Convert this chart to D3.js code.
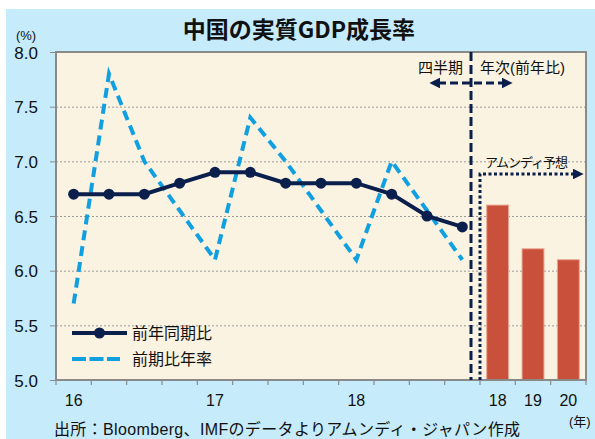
<!DOCTYPE html>
<html>
<head>
<meta charset="utf-8">
<script src="https://cdn.jsdelivr.net/npm/d3@7"></script>
<style>
    body { margin: 0; background: #fff; }
    text { font-family: "Liberation Sans", "Noto Sans CJK JP", sans-serif; fill: #111; }
</style>
</head>
<body>
<div id="grafico"></div>
<script>
// quarterly data 2016Q1 - 2018Q4
const quarters = ["16Q1", "16Q2", "16Q3", "16Q4", "17Q1", "17Q2", "17Q3", "17Q4", "18Q1", "18Q2", "18Q3", "18Q4"];
const yoy = [6.7, 6.7, 6.7, 6.8, 6.9, 6.9, 6.8, 6.8, 6.8, 6.7, 6.5, 6.4];
const qoqAnnualized = [5.7, 7.8, 7.0, 6.55, 6.1, 7.4, 7.0, 6.55, 6.1, 7.0, 6.55, 6.1];
const quarterTickLabels = { "16Q1": "16", "17Q1": "17", "18Q1": "18" };

// annual forecast
const years = ["18", "19", "20"];
const forecast = [6.6, 6.2, 6.1];

const yTicks = [5.0, 5.5, 6.0, 6.5, 7.0, 7.5, 8.0];

class Grafico {
    constructor(config) {
        this.config = config;
        this.svg = null;
        this.xScale = null;
        this.yScale = null;
        this.barScale = null;
        this.createSvg();
    }

    createSvg() {
        this.svg = d3.select(this.config.div)
            .append("svg")
            .attr("width", this.config.width)
            .attr("height", this.config.height);

        this.svg.append("rect")
            .attr("x", 6).attr("y", 9)
            .attr("width", this.config.width - 6)
            .attr("height", this.config.height - 9)
            .attr("fill", "#c6ebfb");

        let defs = this.svg.append("defs");
        defs.append("marker")
            .attr("id", "head")
            .attr("viewBox", "0 0 10 10")
            .attr("refX", 2).attr("refY", 5)
            .attr("markerWidth", 3.6).attr("markerHeight", 3.6)
            .attr("markerUnits", "strokeWidth")
            .attr("orient", "auto-start-reverse")
            .append("path")
            .attr("d", "M0,0 L10,5 L0,10 Z")
            .attr("fill", "#0b1f4d");
    }

    createScales() {
        let c = this.config;
        let domain = quarters.concat(years.map(d => "Y" + d));
        this.xScale = d3.scaleBand().domain(domain).range([c.left, c.right]);
        this.yScale = d3.scaleLinear().domain([5, 8]).range([c.bottom, c.top]);
        this.barScale = d3.scaleBand().domain(years)
            .range([this.xScale("Y" + years[0]), c.right])
            .paddingInner(0.38).paddingOuter(0.19);
    }

    renderFrame() {
        let c = this.config;
        this.svg.append("rect")
            .attr("x", c.left).attr("y", c.top)
            .attr("width", c.right - c.left)
            .attr("height", c.bottom - c.top)
            .attr("fill", "#faf3e1");

        // grid
        let grid = d3.axisLeft(this.yScale)
            .tickValues(yTicks.filter(d => d > 5 && d < 8))
            .tickSize(-(c.right - c.left))
            .tickFormat("");
        let g = this.svg.append("g")
            .attr("transform", `translate(${c.left},0)`)
            .call(grid);
        g.select(".domain").remove();
        g.selectAll("line")
            .attr("stroke", "#9a9a9a")
            .attr("stroke-width", 1)
            .attr("stroke-dasharray", "2,2");
    }

    renderBars() {
        this.svg.append("g")
            .selectAll("rect")
            .data(years.map((d, i) => ({ x: d, y: forecast[i] })))
            .join("rect")
            .attr("x", d => this.barScale(d.x))
            .attr("y", d => this.yScale(d.y))
            .attr("width", this.barScale.bandwidth())
            .attr("height", d => this.config.bottom - this.yScale(d.y))
            .attr("fill", "#c9503a")
            .attr("stroke", "#eba694")
            .attr("stroke-width", 1);
    }

    renderLines() {
        let half = this.xScale.bandwidth() / 2;
        let line = d3.line()
            .x(d => this.xScale(d.x) + half)
            .y(d => this.yScale(d.y));

        let qoqData = quarters.map((q, i) => ({ x: q, y: qoqAnnualized[i] }));
        let yoyData = quarters.map((q, i) => ({ x: q, y: yoy[i] }));

        this.svg.append("path")
            .datum(qoqData)
            .attr("d", line)
            .attr("fill", "none")
            .attr("stroke", "#10a0e2")
            .attr("stroke-width", 4)
            .attr("stroke-dasharray", "10,6");

        this.svg.append("path")
            .datum(yoyData)
            .attr("d", line)
            .attr("fill", "none")
            .attr("stroke", "#0b1f4d")
            .attr("stroke-width", 4);

        this.svg.append("g")
            .selectAll("circle")
            .data(yoyData)
            .join("circle")
            .attr("cx", d => this.xScale(d.x) + half)
            .attr("cy", d => this.yScale(d.y))
            .attr("r", 5.5)
            .attr("fill", "#0b1f4d");
    }

    createAxis() {
        let c = this.config;
        let yAxis = d3.axisLeft(this.yScale)
            .tickValues(yTicks)
            .tickFormat(d3.format(".1f"))
            .tickSize(6)
            .tickPadding(12);
        let gy = this.svg.append("g")
            .attr("transform", `translate(${c.left},0)`)
            .call(yAxis);
        gy.select(".domain").remove();
        gy.selectAll("line").attr("stroke", "#8a8a8a");
        gy.selectAll("text").style("font-size", "17px").attr("dy", "0.36em");

        // x axis tick marks on band boundaries
        let bounds = this.xScale.domain().map(d => this.xScale(d)).concat([c.right]);
        this.svg.append("g")
            .selectAll("line")
            .data(bounds)
            .join("line")
            .attr("x1", d => d).attr("x2", d => d)
            .attr("y1", c.bottom).attr("y2", c.bottom + 5)
            .attr("stroke", "#8a8a8a")
            .attr("stroke-width", 1.2);

        // labels at band centres
        let labelKeys = Object.keys(quarterTickLabels).concat(years.map(d => "Y" + d));
        let xAxis = d3.axisBottom(this.xScale)
            .tickValues(labelKeys)
            .tickFormat(d => quarterTickLabels[d] || d.slice(1))
            .tickSize(0)
            .tickPadding(15);
        let gx = this.svg.append("g")
            .attr("transform", `translate(0,${c.bottom})`)
            .call(xAxis);
        gx.select(".domain").remove();
        gx.selectAll("text").style("font-size", "16px");

        // plot border
        this.svg.append("rect")
            .attr("x", c.left).attr("y", c.top)
            .attr("width", c.right - c.left)
            .attr("height", c.bottom - c.top)
            .attr("fill", "none")
            .attr("stroke", "#8a8a8a")
            .attr("stroke-width", 2);
    }

    renderAnnotations() {
        let c = this.config;
        let navy = "#0b1f4d";
        let divX = this.xScale("Y" + years[0]) - 9;
        let fcX = this.xScale("Y" + years[0]);

        // quarterly / annual divider
        this.svg.append("line")
            .attr("x1", divX).attr("x2", divX)
            .attr("y1", c.top).attr("y2", c.bottom)
            .attr("stroke", navy).attr("stroke-width", 3)
            .attr("stroke-dasharray", "9,4");

        this.svg.append("line")
            .attr("x1", divX - 33).attr("x2", divX + 33)
            .attr("y1", 83).attr("y2", 83)
            .attr("stroke", navy).attr("stroke-width", 3)
            .attr("stroke-dasharray", "8,4")
            .attr("marker-start", "url(#head)")
            .attr("marker-end", "url(#head)");

        this.svg.append("text")
            .attr("x", divX - 8).attr("y", 73)
            .attr("text-anchor", "end")
            .style("font-size", "15px")
            .text("四半期");
        this.svg.append("text")
            .attr("x", divX + 9).attr("y", 73)
            .style("font-size", "15px")
            .text("年次(前年比)");

        // forecast bracket
        this.svg.append("path")
            .attr("d", `M${fcX},${c.bottom} V174 H575`)
            .attr("fill", "none")
            .attr("stroke", navy).attr("stroke-width", 3)
            .attr("stroke-dasharray", "3,2.5")
            .attr("marker-end", "url(#head)");
        this.svg.append("text")
            .attr("x", fcX + 5).attr("y", 167)
            .attr("textLength", 83)
            .style("font-size", "13px")
            .text("アムンディ予想");
    }

    renderLabels() {
        this.svg.append("text")
            .attr("x", 299).attr("y", 38)
            .attr("text-anchor", "middle")
            .style("font-size", "23px")
            .style("font-weight", "bold")
            .style("font-family", "'Noto Sans CJK JP', sans-serif")
            .text("中国の実質GDP成長率");

        this.svg.append("text")
            .attr("x", 26).attr("y", 40)
            .attr("text-anchor", "middle")
            .style("font-size", "13px")
            .text("(%)");

        this.svg.append("text")
            .attr("x", 569).attr("y", 426)
            .style("font-size", "13px")
            .text("(年)");

        this.svg.append("text")
            .attr("x", 54).attr("y", 435)
            .attr("textLength", 466)
            .style("font-size", "16px")
            .text("出所：Bloomberg、IMFのデータよりアムンディ・ジャパン作成");

        // legend
        let lg = this.svg.append("g");
        lg.append("line")
            .attr("x1", 72).attr("x2", 127).attr("y1", 333).attr("y2", 333)
            .attr("stroke", "#0b1f4d").attr("stroke-width", 4);
        lg.append("circle")
            .attr("cx", 99.5).attr("cy", 333).attr("r", 5.5)
            .attr("fill", "#0b1f4d");
        lg.append("text")
            .attr("x", 132).attr("y", 339)
            .style("font-size", "16px")
            .text("前年同期比");
        lg.append("line")
            .attr("x1", 72).attr("x2", 120).attr("y1", 359).attr("y2", 359)
            .attr("stroke", "#10a0e2").attr("stroke-width", 4)
            .attr("stroke-dasharray", "14,3.5");
        lg.append("text")
            .attr("x", 132).attr("y", 365)
            .style("font-size", "16px")
            .text("前期比年率");
    }
}

function main() {
    let c = { div: "#grafico", width: 595, height: 439, left: 56, right: 586, top: 52, bottom: 380 };
    let chart = new Grafico(c);
    chart.createScales();
    chart.renderFrame();
    chart.renderBars();
    chart.renderLines();
    chart.createAxis();
    chart.renderAnnotations();
    chart.renderLabels();
}

main();
</script>
</body>
</html>
